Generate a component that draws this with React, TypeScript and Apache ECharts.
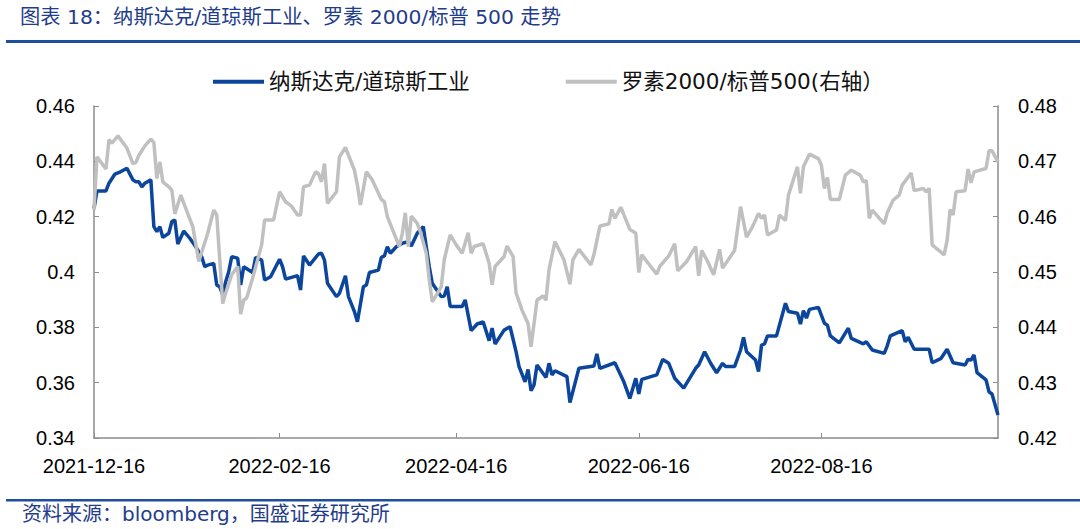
import React, { useEffect, useRef } from "react";
import * as echarts from "echarts";

const titleText = "图表 18：纳斯达克/道琼斯工业、罗素 2000/标普 500 走势";
const sourceText = "资料来源：bloomberg，国盛证券研究所";
const seriesNames = ["纳斯达克/道琼斯工业", "罗素2000/标普500(右轴）"];
const xTickLabels = ["2021-12-16", "2022-02-16", "2022-04-16", "2022-06-16", "2022-08-16"];
const xRange = ["2021-12-16", "2022-10-14"];
const leftAxisRange = [0.34, 0.46, 0.02];
const rightAxisRange = [0.42, 0.48, 0.01];

const nasdaqDowDates = [
  "2021-12-16", "2021-12-17", "2021-12-20", "2021-12-21", "2021-12-23", "2021-12-25", "2021-12-27", "2021-12-29", "2021-12-30", "2021-12-31",
  "2022-01-01", "2022-01-02", "2022-01-04", "2022-01-05", "2022-01-06", "2022-01-07", "2022-01-08", "2022-01-10", "2022-01-11", "2022-01-12",
  "2022-01-13", "2022-01-15", "2022-01-17", "2022-01-19", "2022-01-21", "2022-01-22", "2022-01-23", "2022-01-25", "2022-01-26", "2022-01-27",
  "2022-01-28", "2022-01-29", "2022-01-30", "2022-01-31", "2022-02-02", "2022-02-03", "2022-02-04", "2022-02-07", "2022-02-08", "2022-02-10",
  "2022-02-11", "2022-02-13", "2022-02-16", "2022-02-17", "2022-02-18", "2022-02-22", "2022-02-23", "2022-02-24", "2022-02-26", "2022-03-01",
  "2022-03-02", "2022-03-03", "2022-03-04", "2022-03-07", "2022-03-08", "2022-03-10", "2022-03-11", "2022-03-13", "2022-03-14", "2022-03-16",
  "2022-03-17", "2022-03-18", "2022-03-21", "2022-03-22", "2022-03-23", "2022-03-24", "2022-03-25", "2022-03-27", "2022-03-29", "2022-03-31",
  "2022-04-01", "2022-04-03", "2022-04-05", "2022-04-06", "2022-04-07", "2022-04-08", "2022-04-11", "2022-04-12", "2022-04-13", "2022-04-14",
  "2022-04-18", "2022-04-19", "2022-04-21", "2022-04-23", "2022-04-25", "2022-04-27", "2022-04-28", "2022-04-29", "2022-05-02", "2022-05-04",
  "2022-05-06", "2022-05-07", "2022-05-09", "2022-05-10", "2022-05-11", "2022-05-12", "2022-05-13", "2022-05-16", "2022-05-17", "2022-05-18",
  "2022-05-19", "2022-05-23", "2022-05-24", "2022-05-27", "2022-06-01", "2022-06-02", "2022-06-03", "2022-06-08", "2022-06-11", "2022-06-13",
  "2022-06-15", "2022-06-16", "2022-06-17", "2022-06-22", "2022-06-24", "2022-06-26", "2022-06-28", "2022-07-01", "2022-07-05", "2022-07-06",
  "2022-07-08", "2022-07-10", "2022-07-12", "2022-07-14", "2022-07-15", "2022-07-18", "2022-07-20", "2022-07-21", "2022-07-22", "2022-07-25",
  "2022-07-26", "2022-07-27", "2022-07-28", "2022-07-29", "2022-08-01", "2022-08-04", "2022-08-05", "2022-08-08", "2022-08-09", "2022-08-10",
  "2022-08-11", "2022-08-12", "2022-08-15", "2022-08-17", "2022-08-18", "2022-08-19", "2022-08-22", "2022-08-25", "2022-08-26", "2022-08-30",
  "2022-08-31", "2022-09-02", "2022-09-06", "2022-09-07", "2022-09-08", "2022-09-12", "2022-09-13", "2022-09-14", "2022-09-16", "2022-09-21",
  "2022-09-22", "2022-09-25", "2022-09-27", "2022-09-29", "2022-10-03", "2022-10-04", "2022-10-05", "2022-10-06", "2022-10-07", "2022-10-10",
  "2022-10-11", "2022-10-12", "2022-10-14",
];
const nasdaqDowValues = [
  0.4230, 0.4293, 0.4293, 0.4321, 0.4354, 0.4363, 0.4375, 0.4333, 0.4326, 0.4326,
  0.4308, 0.4321, 0.4333, 0.4164, 0.4146, 0.4164, 0.4125, 0.4140, 0.4182, 0.4188,
  0.4101, 0.4148, 0.4122, 0.4091, 0.4055, 0.4019, 0.4025, 0.4031, 0.3953, 0.3947,
  0.3917, 0.3965, 0.4001, 0.4055, 0.4050, 0.3953, 0.4019, 0.3998, 0.4053, 0.4043,
  0.3971, 0.3983, 0.4046, 0.4019, 0.3974, 0.3987, 0.3935, 0.4058, 0.4025, 0.4065,
  0.4068, 0.4043, 0.3959, 0.3911, 0.3923, 0.3986, 0.3911, 0.3857, 0.3820, 0.3947,
  0.3953, 0.3998, 0.4007, 0.4053, 0.4058, 0.4091, 0.4068, 0.4091, 0.4104, 0.4110,
  0.4094, 0.4140, 0.4164, 0.4091, 0.4019, 0.3959, 0.3911, 0.3913, 0.3947, 0.3875,
  0.3875, 0.3899, 0.3788, 0.3812, 0.3820, 0.3752, 0.3797, 0.3740, 0.3790, 0.3802,
  0.3712, 0.3658, 0.3603, 0.3648, 0.3571, 0.3592, 0.3664, 0.3619, 0.3670, 0.3628,
  0.3643, 0.3622, 0.3528, 0.3652, 0.3660, 0.3704, 0.3652, 0.3672, 0.3603, 0.3543,
  0.3616, 0.3559, 0.3612, 0.3628, 0.3684, 0.3670, 0.3616, 0.3580, 0.3652, 0.3664,
  0.3712, 0.3670, 0.3636, 0.3670, 0.3658, 0.3658, 0.3718, 0.3764, 0.3712, 0.3682,
  0.3640, 0.3736, 0.3740, 0.3769, 0.3769, 0.3887, 0.3857, 0.3851, 0.3812, 0.3860,
  0.3833, 0.3865, 0.3872, 0.3815, 0.3808, 0.3769, 0.3744, 0.3797, 0.3760, 0.3740,
  0.3748, 0.3718, 0.3706, 0.3733, 0.3769, 0.3788, 0.3748, 0.3764, 0.3721, 0.3721,
  0.3672, 0.3688, 0.3721, 0.3672, 0.3664, 0.3684, 0.3682, 0.3700, 0.3636, 0.3610,
  0.3567, 0.3559, 0.3483,
];

const russellSpDates = [
  "2021-12-16", "2021-12-17", "2021-12-20", "2021-12-21", "2021-12-22", "2021-12-24", "2021-12-27", "2021-12-29", "2021-12-30", "2021-12-31",
  "2022-01-02", "2022-01-04", "2022-01-05", "2022-01-06", "2022-01-07", "2022-01-08", "2022-01-10", "2022-01-11", "2022-01-12", "2022-01-14",
  "2022-01-15", "2022-01-18", "2022-01-20", "2022-01-23", "2022-01-25", "2022-01-26", "2022-01-28", "2022-01-29", "2022-01-31", "2022-02-02",
  "2022-02-03", "2022-02-04", "2022-02-05", "2022-02-07", "2022-02-10", "2022-02-11", "2022-02-14", "2022-02-16", "2022-02-18", "2022-02-20",
  "2022-02-22", "2022-02-23", "2022-02-24", "2022-02-26", "2022-02-28", "2022-03-01", "2022-03-02", "2022-03-03", "2022-03-04", "2022-03-07",
  "2022-03-08", "2022-03-10", "2022-03-13", "2022-03-14", "2022-03-15", "2022-03-17", "2022-03-19", "2022-03-22", "2022-03-23", "2022-03-24",
  "2022-03-28", "2022-03-29", "2022-03-30", "2022-03-31", "2022-04-01", "2022-04-03", "2022-04-04", "2022-04-06", "2022-04-07", "2022-04-08",
  "2022-04-11", "2022-04-12", "2022-04-14", "2022-04-16", "2022-04-18", "2022-04-20", "2022-04-21", "2022-04-22", "2022-04-25", "2022-04-27",
  "2022-04-28", "2022-04-29", "2022-05-02", "2022-05-03", "2022-05-05", "2022-05-06", "2022-05-08", "2022-05-10", "2022-05-11", "2022-05-13",
  "2022-05-15", "2022-05-16", "2022-05-17", "2022-05-19", "2022-05-22", "2022-05-24", "2022-05-25", "2022-05-27", "2022-05-31", "2022-06-01",
  "2022-06-03", "2022-06-06", "2022-06-07", "2022-06-08", "2022-06-10", "2022-06-13", "2022-06-15", "2022-06-16", "2022-06-17", "2022-06-20",
  "2022-06-22", "2022-06-23", "2022-06-26", "2022-06-28", "2022-06-29", "2022-07-02", "2022-07-05", "2022-07-06", "2022-07-07", "2022-07-09",
  "2022-07-11", "2022-07-13", "2022-07-14", "2022-07-18", "2022-07-20", "2022-07-22", "2022-07-24", "2022-07-26", "2022-07-27", "2022-07-28",
  "2022-07-29", "2022-08-01", "2022-08-02", "2022-08-04", "2022-08-05", "2022-08-08", "2022-08-09", "2022-08-10", "2022-08-12", "2022-08-15",
  "2022-08-16", "2022-08-17", "2022-08-18", "2022-08-19", "2022-08-22", "2022-08-24", "2022-08-26", "2022-08-29", "2022-08-30", "2022-08-31",
  "2022-09-01", "2022-09-02", "2022-09-06", "2022-09-07", "2022-09-09", "2022-09-11", "2022-09-12", "2022-09-15", "2022-09-16", "2022-09-19",
  "2022-09-20", "2022-09-21", "2022-09-22", "2022-09-26", "2022-09-27", "2022-09-28", "2022-09-29", "2022-09-30", "2022-10-03", "2022-10-04",
  "2022-10-05", "2022-10-06", "2022-10-10", "2022-10-11", "2022-10-12", "2022-10-14",
];
const russellSpValues = [
  0.4612, 0.4708, 0.4686, 0.4739, 0.4733, 0.4746, 0.4724, 0.4696, 0.4698, 0.4711,
  0.4728, 0.4740, 0.4734, 0.4669, 0.4699, 0.4663, 0.4654, 0.4648, 0.4605, 0.4639,
  0.4624, 0.4582, 0.4519, 0.4570, 0.4612, 0.4603, 0.4443, 0.4462, 0.4495, 0.4510,
  0.4424, 0.4449, 0.4453, 0.4489, 0.4549, 0.4594, 0.4594, 0.4645, 0.4627, 0.4619,
  0.4603, 0.4603, 0.4654, 0.4657, 0.4681, 0.4678, 0.4663, 0.4696, 0.4624, 0.4645,
  0.4708, 0.4725, 0.4684, 0.4657, 0.4621, 0.4681, 0.4666, 0.4631, 0.4627, 0.4600,
  0.4546, 0.4570, 0.4607, 0.4546, 0.4601, 0.4588, 0.4573, 0.4534, 0.4486, 0.4446,
  0.4473, 0.4522, 0.4567, 0.4549, 0.4534, 0.4571, 0.4534, 0.4546, 0.4551, 0.4516,
  0.4477, 0.4510, 0.4528, 0.4547, 0.4528, 0.4462, 0.4431, 0.4407, 0.4365, 0.4449,
  0.4457, 0.4449, 0.4504, 0.4555, 0.4522, 0.4478, 0.4522, 0.4541, 0.4513, 0.4531,
  0.4583, 0.4587, 0.4613, 0.4597, 0.4617, 0.4577, 0.4570, 0.4499, 0.4531, 0.4510,
  0.4496, 0.4510, 0.4529, 0.4551, 0.4502, 0.4519, 0.4546, 0.4493, 0.4539, 0.4519,
  0.4495, 0.4541, 0.4507, 0.4539, 0.4618, 0.4563, 0.4582, 0.4606, 0.4597, 0.4603,
  0.4567, 0.4576, 0.4603, 0.4593, 0.4639, 0.4690, 0.4642, 0.4690, 0.4713, 0.4705,
  0.4693, 0.4651, 0.4671, 0.4631, 0.4631, 0.4675, 0.4684, 0.4675, 0.4663, 0.4665,
  0.4597, 0.4612, 0.4587, 0.4607, 0.4630, 0.4639, 0.4657, 0.4679, 0.4647, 0.4651,
  0.4645, 0.4651, 0.4549, 0.4531, 0.4557, 0.4613, 0.4603, 0.4645, 0.4647, 0.4686,
  0.4661, 0.4681, 0.4687, 0.4719, 0.4719, 0.4699,
];

function parseDay(s: string): number {
  const [y, m, d] = s.split("-").map(Number);
  return Date.UTC(y, m - 1, d);
}
function pad(n: number): string {
  return n < 10 ? "0" + n : String(n);
}
function fmtDay(v: number): string {
  const d = new Date(v);
  return `${d.getUTCFullYear()}-${pad(d.getUTCMonth() + 1)}-${pad(d.getUTCDate())}`;
}
function fmtNum(v: number): string {
  return String(parseFloat(v.toFixed(2)));
}

const AXIS_COLOR = "#8c8c8c";
const BLUE = "#0b469c";
const GREY = "#c0c0c0";
const NAVY = "#1f3d8b";
const LABEL_FONT = "'Liberation Sans', Arial, sans-serif";
const CJK_FONT = "'DejaVu Sans', 'Noto Sans CJK SC', sans-serif";

export default function App() {
  const ref = useRef<HTMLDivElement>(null);

  useEffect(() => {
    if (!ref.current) return;
    const chart = echarts.init(ref.current, undefined, { renderer: "svg" });
    const tickValues = xTickLabels.map(parseDay);
    const option: any = {
      animation: false,
      backgroundColor: "#ffffff",
      grid: { left: 94, right: 82, top: 106, bottom: 91, containLabel: false },
      legend: {
        left: 208,
        top: 66,
        icon: "rect",
        itemWidth: 51,
        itemHeight: 4,
        itemGap: 96,
        data: seriesNames,
        textStyle: {
          fontSize: 21.5,
          color: "#111",
          fontFamily: CJK_FONT,
        },
      },
      xAxis: {
        type: "value",
        min: parseDay(xRange[0]),
        max: parseDay(xRange[1]),
        axisLine: { show: true, lineStyle: { color: AXIS_COLOR, width: 1.5 } },
        axisTick: {
          show: true,
          inside: true,
          length: 5,
          customValues: tickValues,
          lineStyle: { color: AXIS_COLOR },
        },
        axisLabel: {
          customValues: tickValues,
          formatter: (v: number) => fmtDay(v),
          fontSize: 20,
          fontFamily: LABEL_FONT,
          color: "#000",
          margin: 18,
          hideOverlap: false,
        },
        splitLine: { show: false },
      },
      yAxis: [
        {
          type: "value",
          min: leftAxisRange[0],
          max: leftAxisRange[1],
          interval: leftAxisRange[2],
          axisLine: { show: true, lineStyle: { color: AXIS_COLOR, width: 1.5 } },
          axisTick: { show: true, inside: true, length: 5, lineStyle: { color: AXIS_COLOR } },
          axisLabel: {
            formatter: fmtNum,
            fontSize: 20,
            fontFamily: LABEL_FONT,
            color: "#000",
            margin: 19,
          },
          splitLine: { show: false },
        },
        {
          type: "value",
          position: "right",
          min: rightAxisRange[0],
          max: rightAxisRange[1],
          interval: rightAxisRange[2],
          axisLine: { show: true, lineStyle: { color: AXIS_COLOR, width: 1.5 } },
          axisTick: { show: true, inside: true, length: 5, lineStyle: { color: AXIS_COLOR } },
          axisLabel: {
            formatter: fmtNum,
            fontSize: 20,
            fontFamily: LABEL_FONT,
            color: "#000",
            margin: 20,
          },
          splitLine: { show: false },
        },
      ],
      series: [
        {
          name: seriesNames[0],
          type: "line",
          yAxisIndex: 0,
          symbol: "none",
          showSymbol: false,
          color: BLUE,
          lineStyle: { color: BLUE, width: 3.5 },
          data: nasdaqDowDates.map((d, i) => [parseDay(d), nasdaqDowValues[i]]),
        },
        {
          name: seriesNames[1],
          type: "line",
          yAxisIndex: 1,
          symbol: "none",
          showSymbol: false,
          color: GREY,
          lineStyle: { color: GREY, width: 3.5 },
          data: russellSpDates.map((d, i) => [parseDay(d), russellSpValues[i]]),
        },
      ],
      graphic: [
        {
          type: "text",
          left: 20,
          top: 7,
          style: { text: titleText, fontSize: 20.3, fontFamily: CJK_FONT, fill: NAVY },
        },
        {
          type: "rect",
          shape: { x: 6, y: 40, width: 1074, height: 3 },
          style: { fill: "#1f4e9e" },
        },
        {
          type: "rect",
          shape: { x: 6, y: 499, width: 1074, height: 2.5 },
          style: { fill: "#1f4e9e" },
        },
        {
          type: "text",
          left: 22,
          top: 504,
          style: { text: sourceText, fontSize: 20, fontFamily: CJK_FONT, fill: NAVY },
        },
      ],
    };
    chart.setOption(option);
    return () => chart.dispose();
  }, []);

  return (
    <div
      ref={ref}
      style={{ position: "absolute", left: 0, top: 0, width: 1080, height: 529, background: "#fff" }}
    />
  );
}
